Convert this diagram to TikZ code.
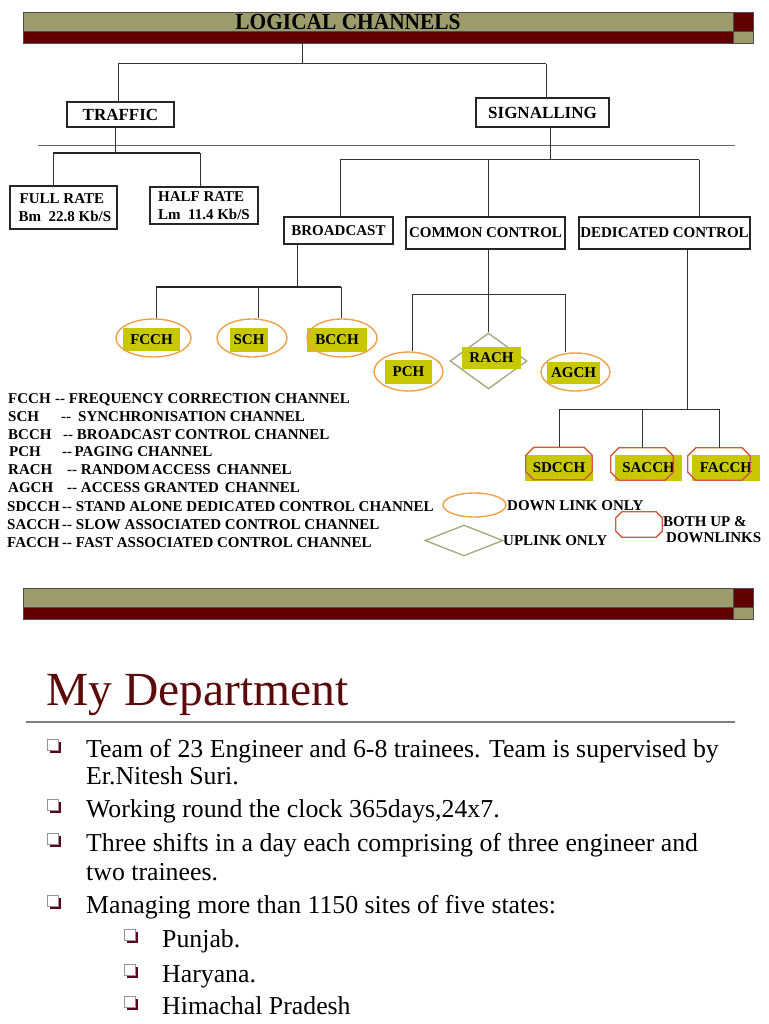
\documentclass[tikz,border=0pt]{standalone}
\usepackage{fontspec}
\setmainfont{Liberation Serif}
\newfontfamily\hdrfont[FakeStretch=0.93]{Liberation Serif}
\usetikzlibrary{shapes.geometric}
\definecolor{olivebar}{RGB}{155,155,108}
\definecolor{darkbar}{RGB}{96,0,0}
\definecolor{chanfill}{RGB}{200,200,0}
\definecolor{dlorange}{RGB}{240,160,70}
\definecolor{bothred}{RGB}{208,90,60}
\definecolor{ulgray}{RGB}{170,170,130}
\definecolor{titlered}{RGB}{90,10,10}
\definecolor{bulred}{RGB}{85,10,25}
\definecolor{bulline}{RGB}{160,140,160}
% octagon outline round a named node, #2 = size of the cut corner
\newcommand\octframe[2]{\draw[draw=bothred,line width=1.3]
  ([xshift=#2]#1.north west) -- ([xshift=-#2]#1.north east) -- ([yshift=-#2]#1.north east)
  -- ([yshift=#2]#1.south east) -- ([xshift=-#2]#1.south east) -- ([xshift=#2]#1.south west)
  -- ([yshift=#2]#1.south west) -- ([yshift=-#2]#1.north west) -- cycle;}

\begin{document}
\begin{tikzpicture}[x=1pt,y=-1pt,
  wire/.style={black!80,line width=1},
  bus/.style={black!85,line width=2},
  box/.style={draw=black!85,line width=1.1,fill=white,inner sep=0pt,
    font=\fontsize{15}{18}\selectfont\bfseries},
  chan/.style={fill=chanfill,inner sep=0pt,font=\fontsize{15}{18}\selectfont\bfseries},
  dlink/.style={ellipse,draw=dlorange,line width=1.4,inner sep=0pt},
  ulink/.style={diamond,draw=ulgray,line width=1.4,inner sep=0pt},
  both/.style={rectangle,inner sep=0pt},
  legtxt/.style={anchor=base west,inner sep=0pt,font=\fontsize{15}{18}\selectfont\bfseries},
  item/.style={anchor=base west,inner sep=0pt,font=\fontsize{25.8}{30}\selectfont},
  sqb/.pic={\fill[bulred] (3,3) rectangle (14,14);
    \filldraw[fill=white,draw=bulline,line width=1] (0,0) rectangle (11,11);}
]
\fill[white] (0,0) rectangle (768,1024);
\useasboundingbox (0,0) rectangle (768,1024);

% title bars
\foreach \t in {12,588}
{   \filldraw[fill=olivebar,draw=black!70,line width=0.8] (23,\t) rectangle (733,\t+19.5);
    \filldraw[fill=darkbar,draw=black!70,line width=0.8] (23,\t+19.5) rectangle (733,\t+31.5);
    \filldraw[fill=darkbar,draw=black!70,line width=0.8] (733,\t) rectangle (753,\t+19.5);
    \filldraw[fill=olivebar,draw=black!70,line width=0.8] (733,\t+19.5) rectangle (753,\t+31.5);
}
\node[inner sep=0pt,font={\hdrfont\bfseries\fontsize{23}{25}\selectfont}] (lc) at (348,22) {LOGICAL CHANNELS};

% boxes
\node[box,minimum width=107,minimum height=25,font=\fontsize{17}{20}\selectfont\bfseries] (traffic) at (120.5,114.5) {TRAFFIC};
\node[box,minimum width=133,minimum height=29,font=\fontsize{17}{20}\selectfont\bfseries] (sig) at (542.5,112.5) {SIGNALLING};
\node[box,minimum width=107,minimum height=43,align=left] (full) at (63.5,207.5) {\hspace*{4pt}FULL RATE\\\hspace*{3pt}Bm\ \ 22.8 Kb/S};
\node[box,minimum width=108,minimum height=37,align=left] (half) at (204,205.5) {HALF RATE\\Lm\ \ 11.4 Kb/S};
\node[box,minimum width=109,minimum height=27] (bcast) at (338.5,230.5) {BROADCAST};
\node[box,minimum width=159,minimum height=32] (ccon) at (485.5,233) {COMMON CONTROL};
\node[box,minimum width=171,minimum height=32] (dcon) at (664.5,233) {DEDICATED CONTROL};

% channels
\node[chan,minimum width=57,minimum height=23] (fcchtxt) at (151.5,339.5) {FCCH};
\node[dlink,minimum width=75,minimum height=38] (fcch) at (153.5,338) {};
\node[chan,minimum width=38,minimum height=24] (schtxt) at (249,340) {SCH};
\node[dlink,minimum width=70,minimum height=38] (sch) at (252,338) {};
\node[chan,minimum width=60,minimum height=24] (bcchtxt) at (337,340) {BCCH};
\node[dlink,minimum width=70,minimum height=38] (bcch) at (342,338) {};
\node[chan,minimum width=47,minimum height=24] (pchtxt) at (408.5,372) {PCH};
\node[dlink,minimum width=69,minimum height=39] (pch) at (408.5,371.5) {};
\node[ulink,minimum width=77,minimum height=56] (rach) at (488.5,361) {};
\node[chan,minimum width=59,minimum height=22] (rachtxt) at (491.5,358) {RACH};
\node[chan,minimum width=53,minimum height=22] (agchtxt) at (573.5,373) {AGCH};
\node[dlink,minimum width=69,minimum height=38] (agch) at (575.5,372) {};
\node[chan,minimum width=68,minimum height=26] (sdcchtxt) at (559,468) {SDCCH};
\node[both,minimum width=66,minimum height=32] (sdcch) at (559,463.5) {};
\node[chan,minimum width=67,minimum height=26] (sacchtxt) at (648.5,468) {SACCH};
\node[both,minimum width=62,minimum height=32] (sacch) at (642,464) {};
\node[chan,minimum width=68,minimum height=26] (facchtxt) at (726,468) {FACCH};
\node[both,minimum width=62,minimum height=32] (facch) at (719,464) {};
\octframe{sdcch}{8}
\octframe{sacch}{8}
\octframe{facch}{8}

% connectors
\coordinate (top) at (302,43.5);
\coordinate (b0) at (302,64);
\coordinate (b0l) at (118,64);
\coordinate (b0r) at (546,64);
\draw[wire] (top) -- (b0);
\draw[wire] (b0l) -- (b0r);
\draw[wire] (b0l) -- (b0l |- traffic.north);
\draw[wire] (b0r) -- (b0r |- sig.north);
\draw[black!60,line width=1] (38,146) -- (735,146);
\coordinate (b1) at (115,153);
\coordinate (b1l) at (53,153);
\coordinate (b1r) at (200,153);
\draw[wire] (traffic.south -| b1) -- (b1);
\draw[bus] (b1l) -- (b1r);
\draw[wire] (b1l) -- (b1l |- full.north);
\draw[wire] (b1r) -- (b1r |- half.north);
\coordinate (b2) at (550,160);
\coordinate (b2l) at (340,160);
\coordinate (b2m) at (488,160);
\coordinate (b2r) at (699,160);
\draw[wire] (sig.south -| b2) -- (b2);
\draw[wire] (b2l) -- (b2r);
\draw[wire] (b2l) -- (b2l |- bcast.north);
\draw[wire] (b2m) -- (b2m |- ccon.north);
\draw[wire] (b2r) -- (b2r |- dcon.north);
\coordinate (b3) at (297,287);
\coordinate (b3l) at (156,287);
\coordinate (b3m) at (258,287);
\coordinate (b3r) at (341,287);
\draw[wire] (bcast.south -| b3) -- (b3);
\draw[bus] (b3l) -- (b3r);
\draw[wire] (b3l) -- (b3l |- fcch.north);
\draw[wire] (b3m) -- (b3m |- sch.north);
\draw[wire] (b3r) -- (b3r |- bcch.north);
\coordinate (b4) at (488,294);
\coordinate (b4l) at (412,294);
\coordinate (b4r) at (565,294);
\draw[wire] (ccon.south -| b4) -- (b4);
\draw[wire] (b4l) -- (b4r);
\draw[wire] (b4l) -- (b4l |- pch.north);
\draw[wire] (b4) -- (b4 |- rach.north);
\draw[wire] (b4r) -- (b4r |- agch.north);
\coordinate (b5) at (687,409);
\coordinate (b5l) at (559,409);
\coordinate (b5m) at (642,409);
\coordinate (b5r) at (719,409);
\draw[wire] (dcon.south -| b5) -- (b5);
\draw[wire] (b5l) -- (b5r);
\draw[wire] (b5l) -- (b5l |- sdcch.north);
\draw[wire] (b5m) -- (b5m |- sacch.north);
\draw[wire] (b5r) -- (b5r |- facch.north);

% legend
\node[legtxt] (lg1) at (8,403) {\makebox[47pt][l]{FCCH}-{}- FREQUENCY CORRECTION CHANNEL};
\node[legtxt] (lg2) at (8,421) {\makebox[53pt][l]{SCH}-{}-\hspace{7pt}SYNCHRONISATION CHANNEL};
\node[legtxt] (lg3) at (8,439) {\makebox[55pt][l]{BCCH}-{}- BROADCAST CONTROL CHANNEL};
\node[legtxt] (lg4) at (9,456.5) {\makebox[53pt][l]{PCH}-{}-\,PAGING CHANNEL};
\node[legtxt] (lg5) at (8,474.5) {\makebox[59pt][l]{RACH}-{}- RANDOM\hspace{1.5pt}ACCESS\hspace{6pt}CHANNEL};
\node[legtxt] (lg6) at (8,492.5) {\makebox[59pt][l]{AGCH}-{}- ACCESS GRANTED\hspace{6pt}CHANNEL};
\node[legtxt] (lg7) at (7,511) {\makebox[55pt][l]{SDCCH}-{}- STAND ALONE DEDICATED CONTROL CHANNEL};
\node[legtxt] (lg8) at (7,529) {\makebox[55pt][l]{SACCH}-{}- SLOW ASSOCIATED CONTROL CHANNEL};
\node[legtxt] (lg9) at (7,547) {\makebox[55pt][l]{FACCH}-{}- FAST ASSOCIATED CONTROL CHANNEL};
\node[dlink,minimum width=63,minimum height=24] (keydl) at (474.5,505) {};
\node[legtxt] (keydltxt) at (507,510) {DOWN LINK ONLY};
\node[ulink,minimum width=78,minimum height=31] (keyul) at (464,540.5) {};
\node[legtxt] (keyultxt) at (503,545) {UPLINK ONLY};
\node[both,minimum width=46,minimum height=25] (keyboth) at (639,524.5) {};
\octframe{keyboth}{6}
\node[legtxt] (keybothtxt) at (663,526) {BOTH UP \&};
\node[legtxt] (keybothtxtb) at (666,542) {DOWNLINKS};

% my department
\node[anchor=base west,inner sep=0pt,text=titlered,font=\fontsize{47.5}{50}\selectfont] (mydept) at (46,705) {My Department};
\draw[black!50,line width=2] (26,722) -- (735,722);
\node[item] (it1a) at (86,757) {Team of 23 Engineer and 6-8 trainees. Team is supervised by};
\node[item] (it1b) at (86,784) {Er.Nitesh Suri.};
\node[item] (it2) at (86,817) {Working round the clock 365days,24x7.};
\node[item] (it3a) at (86,851) {Three shifts in a day each comprising of three engineer and};
\node[item] (it3b) at (86,880) {two trainees.};
\node[item] (it4) at (86,913) {Managing more than 1150 sites of five states:};
\node[item] (st1) at (162,947) {Punjab.};
\node[item] (st2) at (162,982) {Haryana.};
\node[item] (st3) at (162,1014) {Himachal Pradesh};
\foreach \yb in {757,817,851,913}
{   \pic at (47,\yb-18) {sqb};
}
\foreach \yb in {947,982,1014}
{   \pic at (124,\yb-18) {sqb};
}
\end{tikzpicture}
\end{document}
